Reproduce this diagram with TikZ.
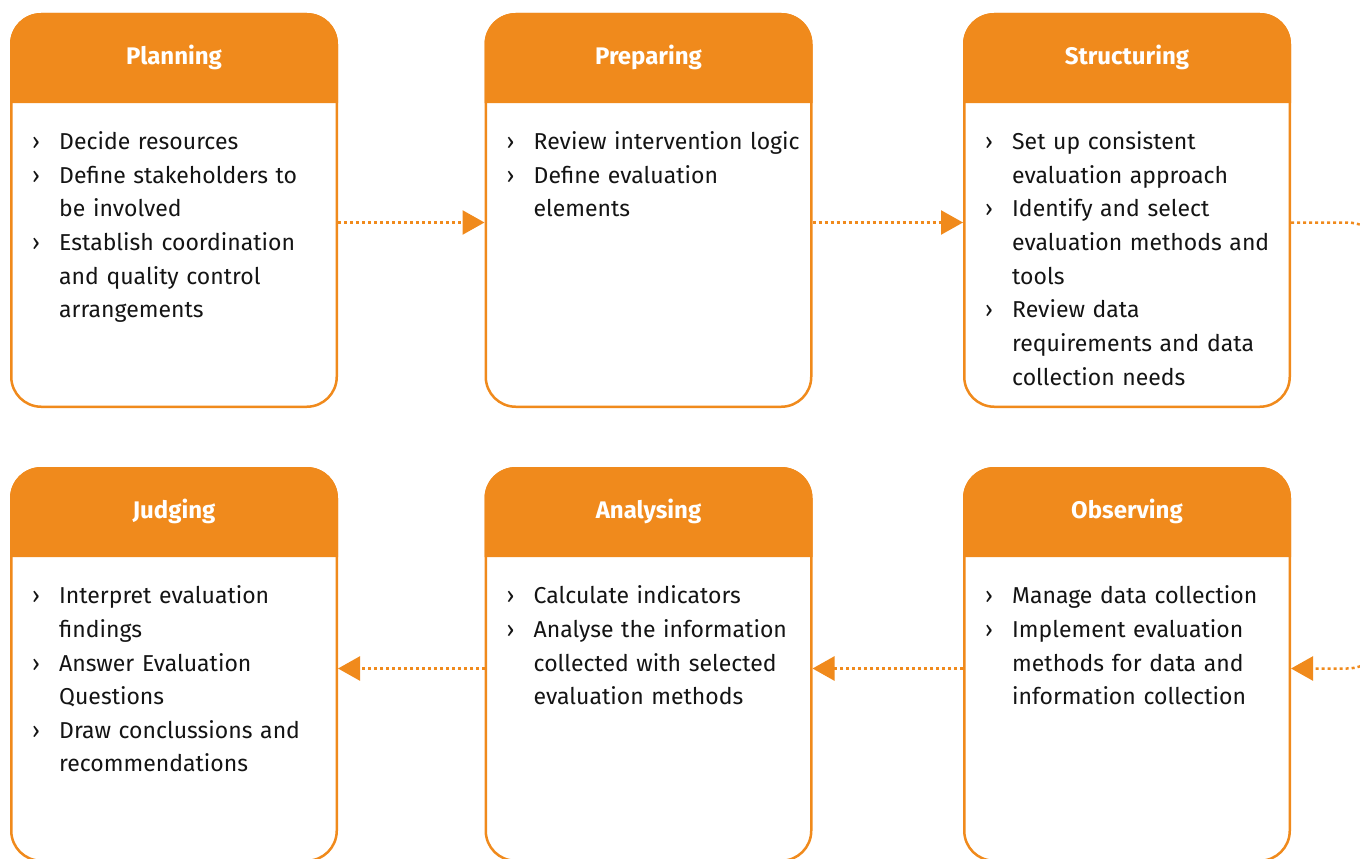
\documentclass[tikz,border=0pt]{standalone}
\usepackage{fontspec}
\setmainfont{Fira Sans}
\usepackage{xcolor}
\usetikzlibrary{arrows.meta,positioning}

\definecolor{evalorange}{RGB}{240,138,28}
\definecolor{bodytext}{RGB}{20,20,20}

% bullet list used inside the boxes
\newenvironment{steplist}{\begin{list}{›}{\setlength{\leftmargin}{27pt}\setlength{\labelwidth}{27pt}\setlength{\labelsep}{0pt}\setlength{\itemsep}{0pt}\setlength{\parsep}{0pt}\setlength{\topsep}{0pt}\setlength{\partopsep}{0pt}\def\makelabel##1{##1\hfil}}}{\end{list}}

\begin{document}
\begin{tikzpicture}[x=1pt, y=1pt, >={Triangle[length=22pt, width=24pt]},
    stepbox/.style={rectangle, rounded corners=30pt, draw=evalorange, line width=2.5pt, fill=white, minimum width=325.5pt, minimum height=392.5pt},
    stephead/.style={text=white, font=\fontsize{24pt}{28pt}\selectfont\bfseries},
    steptext/.style={anchor=north west, inner sep=0pt, text width=310pt, align=left, text=bodytext, font=\fontsize{23pt}{33.6pt}\selectfont},
    flow/.style={draw=evalorange, line width=2.5pt, dash pattern=on 3pt off 3pt, ->, shorten >=0pt}]
    \useasboundingbox (0,0) rectangle (1360,-859);
    \clip (0,0) rectangle (1360,-859);

    % the six steps
    \node[stepbox] (plan) at (174,-210.5) {};
    \node[stepbox, right=146.5pt of plan] (prep) {};
    \node[stepbox, right=150.5pt of prep] (struct) {};
    \node[stepbox, below=59pt of plan] (judge) {};
    \node[stepbox, below=59pt of prep] (anal) {};
    \node[stepbox, below=59pt of struct] (obs) {};

    % orange headers
    \foreach \n/\t in {plan/Planning, prep/Preparing, struct/Structuring, judge/Judging, anal/Analysing, obs/Observing} {
      \fill[evalorange] ([yshift=-90pt]\n.north west) [rounded corners=31pt] -- (\n.north west) -- (\n.north east) [sharp corners] -- ([yshift=-90pt]\n.north east) -- cycle;
      \node[stephead] (\n-title) at ([yshift=-44.5pt]\n.north) {\t};
    }

    \node[steptext] (plan-text) at ([xshift=22pt, yshift=-103pt]plan.north west) {\begin{steplist}
      \item Decide resources
      \item Define stakeholders to\newline be involved
      \item Establish coordination\newline and quality control\newline arrangements
    \end{steplist}};
    \node[steptext] (prep-text) at ([xshift=22pt, yshift=-103pt]prep.north west) {\begin{steplist}
      \item Review intervention logic
      \item Define evaluation\newline elements
    \end{steplist}};
    \node[steptext] (struct-text) at ([xshift=22pt, yshift=-103pt]struct.north west) {\begin{steplist}
      \item Set up consistent\newline evaluation approach
      \item Identify and select\newline evaluation methods and\newline tools
      \item Review data\newline requirements and data\newline collection needs
    \end{steplist}};
    \node[steptext] (judge-text) at ([xshift=22pt, yshift=-103pt]judge.north west) {\begin{steplist}
      \item Interpret evaluation\newline findings
      \item Answer Evaluation\newline Questions
      \item Draw conclussions and\newline recommendations
    \end{steplist}};
    \node[steptext] (anal-text) at ([xshift=22pt, yshift=-103pt]anal.north west) {\begin{steplist}
      \item Calculate indicators
      \item Analyse the information\newline collected with selected\newline evaluation methods
    \end{steplist}};
    \node[steptext] (obs-text) at ([xshift=22pt, yshift=-103pt]obs.north west) {\begin{steplist}
      \item Manage data collection
      \item Implement evaluation\newline methods for data and\newline information collection
    \end{steplist}};

    % dotted connectors
    \draw[flow] ([yshift=-12pt]plan.east) -- ([yshift=-12pt]prep.west);
    \draw[flow] ([yshift=-12pt]prep.east) -- ([yshift=-12pt]struct.west);
    \draw[flow, rounded corners=40pt] ([yshift=-12pt]struct.east) -- ++(96,0) |- ([yshift=-4pt]obs.east);
    \draw[flow] ([yshift=-4pt]obs.west) -- ([yshift=-4pt]anal.east);
    \draw[flow] ([yshift=-4pt]anal.west) -- ([yshift=-4pt]judge.east);
\end{tikzpicture}
\end{document}
